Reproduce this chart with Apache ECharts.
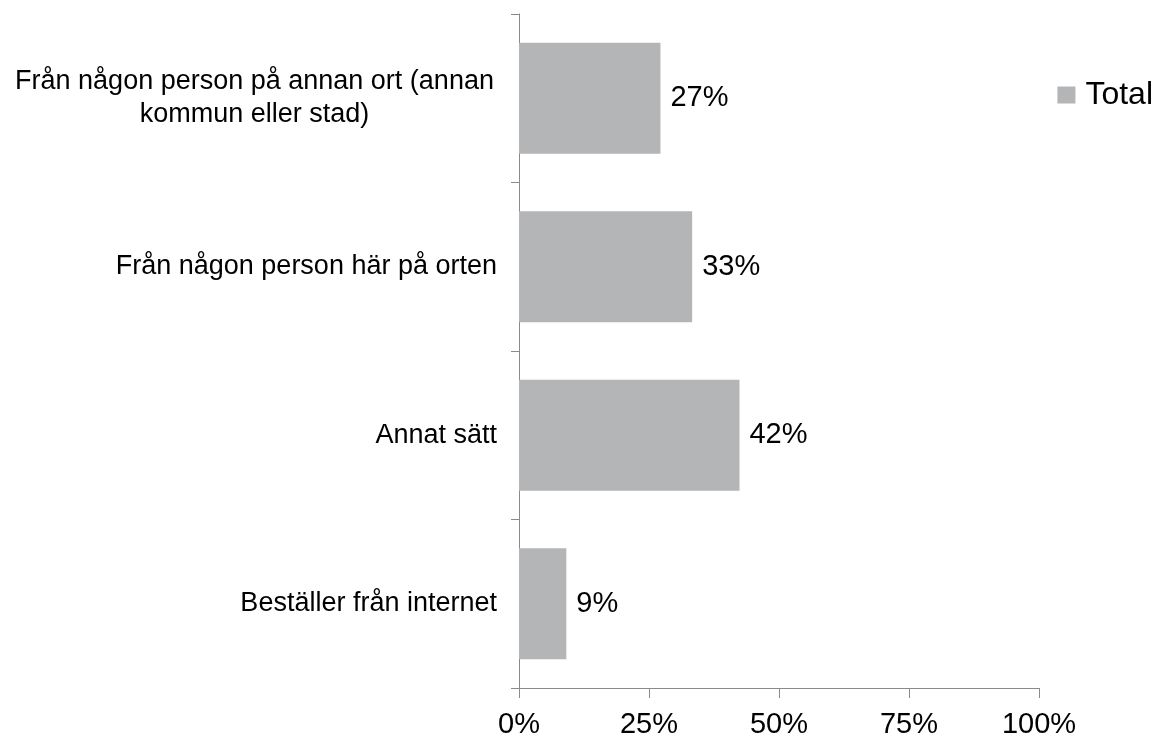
<!DOCTYPE html>
<html>
<head>
<meta charset="utf-8">
<script src="https://cdn.jsdelivr.net/npm/echarts@6/dist/echarts.min.js"></script>
<style>html,body{margin:0;padding:0;background:#fff}#c{width:1161px;height:740px}</style>
</head>
<body>
<div id="c"></div>
<script>
const categories = [
  "Beställer från internet",
  "Annat sätt",
  "Från någon person här på orten",
  "Från någon person på annan ort (annan\nkommun eller stad)"
];
const totalValues = [9.1, 42.4, 33.3, 27.2];
const xTicks = [0, 25, 50, 75, 100];
const seriesName = "Total";

const FONT = '"Liberation Sans", Arial, Helvetica, sans-serif';
const chart = echarts.init(document.getElementById('c'), null, {renderer: 'canvas'});
chart.setOption({
  animation: false,
  backgroundColor: '#ffffff',
  textStyle: {fontFamily: FONT, color: '#000'},
  grid: {left: 519, right: 122, top: 14, bottom: 52, containLabel: false},
  legend: {
    data: [seriesName],
    right: 3, top: 74,
    itemWidth: 18, itemHeight: 17, itemGap: 10,
    icon: 'rect',
    textStyle: {fontFamily: FONT, fontSize: 32, color: '#000', padding: [0,0,0,5]}
  },
  xAxis: {
    type: 'value', min: xTicks[0], max: xTicks[xTicks.length-1], interval: 25,
    axisLine: {show: true, lineStyle: {color: '#8a8a8a', width: 1}},
    axisTick: {show: true, length: 10, lineStyle: {color: '#8a8a8a'}},
    splitLine: {show: false},
    axisLabel: {fontFamily: FONT, fontSize: 29, color: '#000', margin: 22, formatter: v => v + '%'}
  },
  yAxis: {
    type: 'category', data: categories,
    axisLine: {show: true, lineStyle: {color: '#8a8a8a', width: 1}},
    axisTick: {show: true, length: 8, inside: false, alignWithLabel: false, lineStyle: {color: '#8a8a8a'}},
    axisLabel: {
      fontFamily: FONT, fontSize: 27, color: '#000', margin: 22, lineHeight: 33,
      formatter: function (v) {
        if (v.indexOf('\n') >= 0) {
          return v.split('\n').map(l => '{c|' + l + '}').join('\n');
        }
        return v;
      },
      rich: {c: {fontFamily: FONT, fontSize: 27, color: '#000', width: 485, align: 'center', lineHeight: 33}}
    }
  },
  series: [{
    name: seriesName, type: 'bar', data: totalValues,
    barWidth: '66%',
    itemStyle: {color: '#b4b5b7'},
    label: {show: true, position: 'right', distance: 10, fontFamily: FONT, fontSize: 29, color: '#000',
      formatter: p => Math.round(p.value) + '%'}
  }]
});
</script>
</body>
</html>
